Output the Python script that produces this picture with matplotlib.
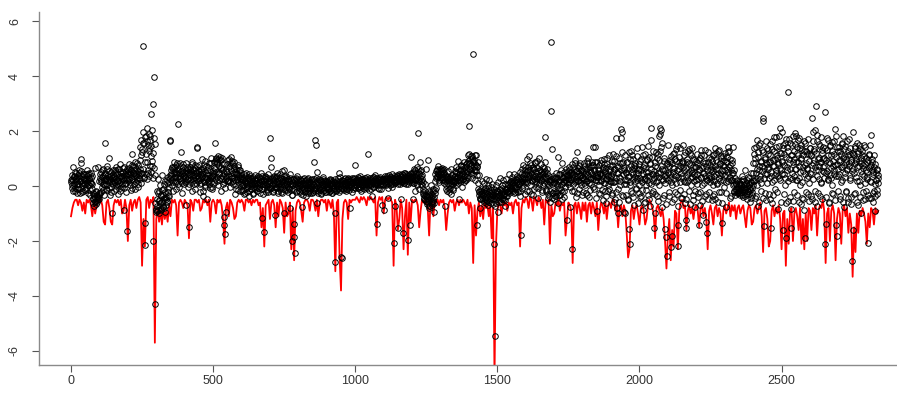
import numpy as np
import matplotlib.pyplot as plt

plt.rcParams['font.family'] = ['Liberation Sans', 'DejaVu Sans']

# red line (lower bound), one value every 5 observations, in tenths
var_step = 5
var_tenths = [
    -11, -8, -6, -5, -5, -7, -5, -6, -9, -6, -10, -5, -6, -5, -7, -11, -6, -10, -7, -5,
    -6, -5, -7, -13, -14, -6, -5, -8, -13, -14, -7, -5, -6, -5, -7, -5, -10, -9, -5, -8,
    -20, -7, -5, -9, -6, -5, -8, -5, -4, -6, -29, -12, -22, -5, -4, -8, -5, -6, -4, -57,
    -12, -8, -13, -9, -14, -8, -12, -9, -13, -7, -11, -5, -6, -5, -7, -18, -6, -5, -6, -8,
    -5, -6, -7, -19, -5, -6, -9, -5, -5, -6, -5, -9, -8, -5, -6, -5, -7, -5, -13, -6,
    -5, -6, -10, -5, -6, -5, -7, -12, -21, -8, -6, -11, -5, -6, -8, -12, -11, -6, -5, -6,
    -5, -6, -9, -5, -5, -6, -5, -7, -5, -6, -5, -5, -7, -6, -15, -8, -22, -7, -6, -5,
    -12, -6, -5, -7, -15, -6, -11, -5, -6, -8, -17, -6, -11, -10, -6, -23, -8, -27, -9, -6,
    -5, -6, -9, -13, -6, -5, -5, -6, -9, -5, -5, -6, -9, -5, -11, -6, -5, -5, -6, -5,
    -9, -5, -6, -8, -5, -10, -31, -6, -5, -26, -38, -12, -6, -5, -6, -12, -5, -6, -5, -5,
    -5, -4, -5, -6, -4, -5, -4, -5, -7, -4, -5, -4, -5, -6, -4, -18, -6, -4, -5, -4,
    -10, -5, -4, -5, -4, -5, -6, -29, -5, -7, -16, -12, -5, -8, -23, -11, -5, -25, -6, -13,
    -5, -6, -5, -5, -7, -15, -9, -5, -6, -5, -6, -8, -18, -5, -6, -11, -5, -6, -5, -7,
    -5, -6, -5, -8, -16, -10, -6, -5, -6, -5, -9, -6, -5, -7, -5, -6, -5, -6, -7, -5,
    -10, -6, -8, -28, -7, -18, -9, -6, -11, -7, -12, -6, -8, -7, -11, -7, -19, -8, -70, -22,
    -9, -6, -7, -10, -6, -7, -6, -9, -6, -7, -6, -10, -6, -5, -7, -6, -22, -8, -5, -6,
    -4, -5, -8, -4, -5, -9, -4, -5, -7, -4, -5, -8, -5, -14, -5, -6, -5, -21, -7, -11,
    -10, -6, -7, -5, -9, -6, -7, -6, -18, -12, -6, -7, -9, -28, -7, -6, -10, -6, -8, -12,
    -6, -9, -6, -13, -7, -6, -10, -6, -8, -11, -6, -16, -9, -6, -7, -10, -6, -12, -7, -6,
    -8, -5, -5, -9, -7, -15, -8, -7, -11, -7, -9, -17, -26, -23, -9, -7, -12, -8, -7, -10,
    -14, -8, -7, -9, -14, -12, -7, -5, -6, -8, -10, -19, -8, -7, -9, -11, -8, -12, -20, -30,
    -18, -12, -27, -16, -22, -9, -10, -23, -9, -6, -5, -8, -7, -16, -9, -7, -10, -8, -12, -8,
    -7, -9, -15, -8, -7, -11, -8, -12, -23, -9, -7, -10, -14, -8, -7, -11, -8, -10, -18, -9,
    -7, -10, -8, -6, -11, -7, -9, -7, -12, -8, -7, -10, -8, -7, -11, -15, -9, -7, -8, -14,
    -13, -8, -7, -10, -8, -6, -11, -24, -9, -8, -12, -22, -20, -9, -7, -11, -8, -10, -7, -12,
    -23, -10, -9, -29, -12, -21, -9, -8, -20, -10, -8, -11, -16, -8, -21, -12, -23, -10, -20, -8,
    -9, -16, -8, -10, -7, -18, -9, -7, -8, -5, -9, -28, -10, -8, -20, -9, -7, -10, -27, -12,
    -8, -10, -21, -9, -7, -11, -8, -17, -10, -14, -33, -15, -24, -10, -17, -9, -11, -8, -10, -13,
    -21, -10, -15, -8, -9, -14, -8, -10, -9,
]

# residual points at even observations (0, 2, 4, ...), in hundredths
res_even = [
    14, 27, -8, 22, 71, 3, 38, -17, 25, 46, 9, -12, 33, -4, 58, -26, 17, 83, 97, 12, -21, 44, 6, 29, -13,
    18, -6, 42, 13, 57, -24, 31, 2, 16, -34, 48, 11, -9, -43, -62, -28, -71, -53, 64, -18, -39, -58, 68, -47, -32,
    -46, -27, 23, 51, -3, 34, -16, 62, 8, 41, 158, -11, 26, 73, 4, 19, 54, 101, -31, 24, 37, -2, -97, 59, 21,
    32, -19, 47, 14, 68, 5, 43, -28, 17, 61, 12, 79, -8, 36, 22, -3, 52, 28, -88, 71, 7, -22, 39, 63, -162,
    53, 18, 81, 4, 42, 57, -16, 116, 27, 72, 9, 48, 88, -12, 37, 63, 21, 77, -3, 52, 31, 93, 141, 11, 168,
    124, 198, 509, 157, 34, -136, -215, 183, 87, 212, 148, 46, 191, 127, 169, 262, 108, 203, 72, 297, -199, 396, 152, -429, -93,
    -83, -18, -91, 27, -52, -97, 3, -63, -88, -31, 41, -72, -9, -79, -42, 18, -93, -47, 12, -58, -23, 33, -38, -4, 167,
    163, 43, 2, 71, 28, -17, 62, 87, 13, 49, -11, 82, 34, 57, 227, -4, 38, 74, 124, 19, 53, -26, 79, 41, 8,
    48, 14, -69, 83, 27, 61, -3, 43, -148, 68, 22, 54, -18, 87, 31, 63, 8, 39, 78, -12, 52, 143, 138, 18, 59,
    34, 76, -22, 53, 11, 98, 42, -37, 64, 17, 91, 4, 28, 72, -48, 39, 13, 84, 21, -8, 57, 33, 103, -2, 46,
    41, 87, 12, 63, 158, 97, 34, 82, 3, 108, 47, 23, 94, 68, -17, 38, 102, 9, 61, -112, -142, -176, -93, 28, 79,
    52, 93, 17, 98, -4, 73, 36, 107, 29, 84, 8, 62, 88, 21, -28, 47, 3, 42, 69, -13, 32, 58, 24, -19, 37,
    13, -18, 27, 2, 43, -29, 16, -7, 48, 9, -23, 32, -3, 21, -38, 37, 12, -11, 28, 4, 19, -26, 7, 41, -9,
    23, -2, 31, -17, 38, 14, -8, 27, 6, 46, 18, -117, 9, -28, -167, 22, 36, 3, 33, -12, 11, 42, -21, 17, -4,
    176, 102, 71, 3, 28, -19, 24, 37, -106, 12, -8, 33, -2, 49, 17, -27, 8, 42, -4, -22, 31, 13, 56, -9, 58,
    -98, 21, 3, 38, 12, -16, 27, -4, 18, -11, -79, 43, 7, -31, -201, 24, 2, -186, -138, -242, 29, 9, 36, -18, 4,
    12, -17, 26, 3, -28, 19, -76, -3, 8, -12, 31, -21, 4, 23, -36, 11, -7, 28, -2, -19, 16, -27, 9, 1, 24,
    3, -22, 18, 86, -9, 167, 149, 52, -63, 14, -18, 27, -4, -13, 21, -26, 8, -1, 32, -17, 12, -8, 19, 2, -23,
    -3, 17, -11, 8, -22, 26, 2, -14, 21, 11, -27, 4, 16, -8, -278, -97, 12, -19, -1, 29, -12, 48, 7, 33, -16,
    -259, -262, 3, 18, -9, 12, 27, -2, -17, 8, 22, -12, 4, 31, 13, -81, 19, 1, 9, -21, 28, 14, -3, 24, -7,
    76, 14, 21, 3, 32, -8, 12, 19, -2, 38, -17, 9, 27, 5, 18, -11, 13, 31, 2, 23, -6, 11, 116, 17, 4,
    8, 29, 4, 22, -36, 13, 33, -2, 18, 12, 41, 6, 23, -138, 14, 27, -9, 21, 3, 34, 11, 19, -69, 7, 24,
    -87, 22, 14, 31, 6, 19, 38, -42, 12, 27, 23, 4, 33, 16, 42, 24, 7, 29, -208, 21, -72, 13, 34, 18, 37,
    28, -153, 23, 39, 14, 32, -47, 18, 42, -171, 27, 12, 48, 21, 6, 34, 41, 24, -196, 31, 16, 43, -142, 107, 22,
    33, 52, -46, 12, 61, 24, -18, 38, 69, 4, 192, 27, 47, -9, 86, 19, 58, 2, 41, -28, -23, -42, 9, -51, -33,
    63, -38, -59, 94, -81, -17, -48, -72, 3, -29, -62, -12, -53, -41, -93, 18, 42, -8, 57, 33, 48, 72, 14, 39, 61,
    52, 28, 67, 21, 58, 43, 11, 49, -73, 32, 4, 38, -17, 24, 53, -12, 29, 2, 61, -28, 18, 41, -7, 13, 34,
    18, 53, 4, 68, 32, 91, 12, -46, 43, 57, 23, 78, -3, 49, 27, 72, 14, 87, 38, 63, 21, 82, 54, 29, 112,
    218, 117, 83, 108, 47, 103, 28, 92, 482, 58, 113, 21, 77, 53, -142, 68, 12, -18, 39, -43, -79, -12, -48, 17, -32,
    -23, -58, 12, -41, -8, 27, -53, -29, 3, -68, -17, 22, -38, -61, -4, -32, 9, -47, -21, -212, -545, -37, 4, -63, -18,
    -28, 13, -93, -52, -12, 31, -43, -57, 2, -19, 23, -48, -33, 8, -71, -9, 27, -38, -22, 4, 42, -27, 11, -13, 19,
    3, 32, -18, 12, 43, -27, -3, 21, -11, 38, 14, -22, 29, 6, 52, -37, -179, 18, 63, 48, 2, 77, 31, -28, 71,
    42, 13, 98, -17, 58, 32, 108, 3, 82, 47, -28, 23, 68, 37, -12, 61, 18, 88, -3, 92, 27, -42, 53, 101, 9,
    58, 22, 79, -13, 43, 68, 4, 52, 87, 179, 33, -18, 62, 11, -42, 37, 2, -58, 23, 273, 525, 135, -27, 31, -48,
    12, -38, 29, -22, 47, 3, -63, 107, 18, -31, 42, -8, 58, 82, -49, 14, 33, -17, 52, -2, 23, 61, -124, 39, 8,
    31, 68, -3, -76, 49, 22, 81, -230, 42, -18, 57, 13, 93, 27, -41, 53, 122, 17, 72, -11, 38, 83, 4, 59, 28,
    48, -21, 83, 27, 4, 62, 18, 91, -32, 41, 102, 11, 68, -13, 52, 29, 78, 88, 143, -2, 57, 141, 22, 37, -43,
    -91, 88, 32, 57, 3, 49, -28, 82, 17, 43, -52, 71, 12, 98, -18, 53, 27, -61, 79, 2, 38, 112, -9, 63, 19,
    41, -32, 92, 13, 118, -57, 63, 18, -22, 176, 72, -81, -99, 48, 103, 2, 28, 207, 173, 197, 82, -38, -93, 58, 114,
    -98, 52, 8, 87, -48, 33, 122, -157, -212, 4, 129, 61, -27, 43, 98, 77, -68, 18, 73, -12, 108, 29, -62, 47, 3,
    62, -41, 97, 23, 142, -13, -89, 68, 27, 118, -58, 52, 4, 93, 38, -32, 107, 12, 81, -72, 167, 210, 42, 128, -18,
    28, -152, -99, 73, 13, 102, -38, 48, 118, 3, 182, 210, 191, 204, 155, -75, 58, 22, 91, -33, -155, 41, -184, -255, 79,
    52, 149, -23, 88, 31, -223, 108, 4, -181, 67, 121, -48, 39, 97, 12, 133, -28, -142, -217, 62, 87, -13, 137, 29, 82,
    -42, 71, 149, 18, 112, -63, -124, -152, 88, 13, 128, 47, -18, 83, 121, 3, 58, 137, 32, -51, 98, 43, 68, -77, 22,
    92, 8, 118, -27, 63, -142, -69, 103, 28, 131, 2, 72, -106, 48, 113, -38, 82, -130, -170, 21, 88, 125, 37, -22, 58,
    33, 98, -52, 68, 4, 112, 38, -28, 137, 61, 121, 12, 87, -58, 49, 132, 18, 79, -23, 103, -133, 42, 108, -3, 72,
    58, 121, 14, -77, 89, 123, 141, 27, 68, -42, 97, 22, 82, 48, 143, 3, 57, -18, 29, -12, 8, -27, 17, -21, -3,
    -18, 12, -31, 3, -13, 38, -22, 17, -41, -2, 57, -9, -28, 8, -48, 21, -17, 4, 29, -58, -7, 13, 47, -32, 2,
    82, 18, 138, -43, 102, 47, 168, 3, 122, -71, 58, 149, 27, 88, -18, 131, 72, 246, 238, -146, 107, 42, 163, -52, 79,
    12, 118, 63, -28, 152, 87, -151, 38, 133, -62, 73, 179, 22, 98, -9, 142, 48, 112, -82, 79, 183, 31, 212, 119, 57,
    198, 87, 148, -161, 42, 118, 3, 172, -188, 68, 142, -53, 343, 97, 28, 158, -82, -154, 113, 47, 181, -22, 128, 192, 61,
    88, 183, 22, 121, 168, -58, 73, 138, 4, 102, 148, -42, 112, 53, 163, -87, 78, -188, 128, 31, 62, 172, -28, 117, 12,
    138, 42, 112, 248, -49, 197, 83, 128, -18, 203, 291, 58, 162, -71, 98, 27, 152, 88, -38, 178, 13, 121, 68, 142, 52,
    103, 271, -212, 48, -138, 132, 168, 22, 87, -57, 148, 39, 112, 3, 161, 72, -28, 118, 58, 209, 183, -142, -183, 79, 128,
    38, 142, -48, 92, 117, 13, 158, 68, 182, -78, 108, 32, 147, -17, 98, 61, 128, -58, 83, 172, 22, 118, -41, 88, -274,
    198, -161, 112, 48, 138, -27, 92, 158, 18, 121, -68, 73, 148, 3, 102, -97, 128, 42, 78, -52, 108, 12, 141, 58, -19,
    87, 32, -209, 118, -42, 73, 148, 185, 13, 98, -58, 52, 112, -18, -92, 81, 22, 58, -28, 41, 12,
]

# residual points at odd observations (1, 3, 5, ...), in hundredths
res_odd = [
    22, 5, 41, -18, 33, 12, 52, -7, 28, 17, -24, 39, 8, 47, -11, 31, 19, 56, 2, 36, 14, -19, 27, 45, 9,
    26, -13, 37, 21, 44, 3, 24, 48, -16, 29, 11, 35, 7, -27, -48, -36, -59, -44, -22, -67, -31, -52, -41, 18, -25,
    28, 43, -23, 16, 57, 9, 36, -31, 22, 48, 4, 31, 63, -14, 25, 41, -6, 34, 18, 52, -22, 29, 11, 44, 6,
    38, 14, 57, 26, -12, 44, 19, 62, 3, 33, 51, -17, 28, 47, 9, 36, 64, 21, -8, 42, 31, 55, 12, 27, 48,
    42, 27, 66, 13, 51, 34, 78, -6, 47, 22, 59, 38, 71, 16, 45, 29, 83, 54, 7, 39, 62, 24, 48, 112, 135,
    47, 156, 62, 31, 178, 89, 43, 117, 24, 164, 58, 139, 36, 182, 74, 51, 146, 92, 28, 121, 66, 173, 41, -62, -88,
    -47, -71, -26, -89, -54, -18, -63, -38, -82, -14, -57, -33, -76, 7, -45, -21, -68, -39, 22, -53, -12, -36, 14, 28, 41,
    37, 58, 22, 66, 14, 48, 71, 33, 53, 19, 76, 42, 8, 61, 27, 47, 83, 31, 56, 11, 44, 68, 24, 52, 36,
    32, 57, 18, 46, 71, 24, 52, 9, 39, 63, 27, 48, 81, 14, 41, 58, 22, 67, 33, 49, 12, 73, 37, 28, 54,
    21, 43, 6, 62, 28, 37, -18, 51, 13, 78, 32, -4, 47, 24, 59, 17, 68, 8, 41, 29, 83, 15, 36, -11, 53,
    38, 67, 92, 24, 103, 51, 88, 17, 97, 43, 72, 106, 31, 64, 95, 26, 57, 81, 13, 48, -7, 22, 38, 56, 19,
    43, 22, 68, 37, 84, 13, 57, 29, 91, 46, 18, 73, 34, 52, -9, 61, 27, 44, 78, 16, 39, 58, 8, 31, 47,
    8, 24, -13, 31, 2, 18, -24, 37, 11, -6, 27, 4, 42, -17, 15, 29, -9, 21, 6, -28, 34, 12, -3, 23, 9,
    12, -19, 24, 7, -8, 33, 16, -27, 19, 3, 38, -12, 21, 9, -4, 28, 13, -21, 26, 5, -14, 31, 8, 17, -7,
    14, -8, 27, 3, -22, 18, 33, -12, 9, 26, -3, 15, 38, -18, 7, 22, 11, -9, 29, 2, 17, -26, 24, 8, 36,
    13, -16, 28, -4, 19, 7, -23, 24, -7, 31, 9, -14, 22, 3, -31, 14, 26, -11, 6, 18, -21, 27, -2, 12, 21,
    -8, 16, -23, 7, 22, -14, 3, 27, -31, 11, -6, 19, -18, 4, 24, -11, 8, -26, 14, 2, -16, 21, -7, 12, -24,
    6, -13, 24, -19, 11, 28, -7, 3, 17, -24, 9, -11, 22, -2, -29, 13, -8, 26, 4, -14, 19, -21, 7, 14, -6,
    9, -12, 16, -6, 22, -18, 7, 13, -24, 4, 18, -9, 11, -17, 24, 3, -14, 8, 19, -7, 14, -22, 6, 17, -3,
    13, -8, 22, 6, -16, 17, 4, 29, -11, 14, 7, 24, -4, 18, -13, 9, 27, -2, 15, 21, -9, 12, 31, 3, 16,
    18, 2, 26, 13, -6, 22, 8, 31, -12, 17, 27, 4, 14, -8, 24, 19, 6, 28, -3, 16, 34, 9, 21, -14, 13,
    22, 7, 16, -12, 28, 11, 19, 33, -4, 24, 6, 17, 29, 2, 21, -8, 31, 14, 9, 26, -11, 18, 23, 5, 27,
    24, 13, 36, 4, 27, 18, 31, -6, 22, 39, 14, 26, 9, 33, 21, -3, 28, 37, 16, 24, 11, 32, 19, 41, 8,
    31, 18, 42, 24, 7, 36, 27, 14, 39, 22, 46, 11, 33, 28, 44, 17, 36, 9, 29, 41, 23, 34, 48, 16, 38,
    27, 46, 12, 38, 57, 21, 33, 48, 6, 29, 62, 17, 42, 31, 54, 9, 36, 24, 13, -12, -31, -47, -18, -38, -56,
    -42, -67, -28, -51, -36, -74, -22, -57, -45, -31, -68, -19, -48, -63, -27, -14, 28, 53, 37, 62, 44, 21, 58, 33, 49,
    42, 61, 33, 56, 24, 47, 63, 31, 18, 37, -12, 22, 7, 28, -21, 14, 33, -6, 19, 41, 8, 26, -14, 17, 32,
    36, 14, 52, 28, 47, 63, 21, 41, 58, 33, 72, 17, 44, 61, 26, 53, 38, 69, 22, 47, 81, 34, 56, 92, 63,
    84, 62, 97, 53, 76, 108, 44, 87, 68, 93, 57, 79, 112, 41, 73, 86, -12, -34, -21, -46, -28, -17, -39, -24, -52,
    -31, -13, -46, -27, -62, -19, -38, -51, -8, -33, -57, -24, -42, -16, -49, -29, -66, -37, -12, -44, -71, -23, -48, -35, -18,
    -41, -22, -33, -58, -14, -37, -26, -49, -8, -31, -44, -17, -28, -52, -11, -36, -21, -6, -18, 7, -13, 14, -4, 19, -9,
    12, -16, 22, -7, 18, 3, -21, 27, -4, 14, 31, -12, 8, 24, -19, 11, 16, 28, -8, 36, 22, 44, 14, 57, 26,
    31, 53, 12, 68, 24, 41, -18, 57, 33, 76, 19, 44, -31, 62, 27, 38, 83, 14, 52, 29, 66, -8, 41, 24, 58,
    32, 17, 51, -22, 43, 28, 64, 11, 36, 56, -13, 24, 47, 8, -28, 19, -37, 14, -18, 26, -42, 9, 37, -24, 16,
    -17, 24, -38, 12, 31, -26, 17, -9, 42, -32, 21, -14, 33, 6, -21, 28, 13, -41, 37, 22, 48, 14, 39, 27, 56,
    41, 14, 63, 27, 52, -18, 36, 71, 9, 44, 28, 82, 17, 56, -26, 38, 64, 21, 49, 77, 13, 41, 58, -31, 33,
    26, 54, 11, 72, 38, -24, 47, 61, 19, 83, 32, -41, 53, 24, 68, 8, 44, 76, 29, -12, 57, 36, 89, 21, 48,
    33, 62, 18, 78, -27, 45, 21, 93, 36, -14, 57, 28, 81, 12, 49, -38, 66, 24, 101, 41, -19, 53, 31, 72, 16,
    38, 77, -24, 51, 92, 14, -47, 63, 28, 109, 46, -12, 71, 32, -58, 84, 19, 57, 124, -31, 43, 88, 6, 67, 23,
    47, -33, 86, 21, 61, -52, 38, 97, 14, 73, -18, 52, 112, 27, -41, 66, 33, 84, -7, 49, 138, 22, 58, -26, 81,
    28, 92, -38, 57, 14, 113, 42, -62, 78, 31, 64, -14, 99, 23, 147, 51, -46, 36, 82, 9, 61, -27, 104, 44, 18,
    56, 87, -29, 41, 122, 18, 68, -53, 94, 33, 128, 47, 142, 74, 26, 63, -42, 102, 37, 11, 58, -67, 29, 84, 46,
    21, 73, -37, 96, 44, 13, 82, -58, 52, 118, 27, 67, -21, 91, 38, 144, 59, -74, 33, 106, 16, 72, -43, 48, 92,
    36, 88, -28, 57, 123, 14, 66, -47, 41, 97, 22, 136, 51, -64, 78, 29, 112, 46, -33, 68, 17, 94, 38, -19, 71,
    43, 82, -41, 27, 96, 58, -22, 113, 34, 67, -56, 49, 88, 12, 131, 37, -28, 74, 23, 58, -47, 102, 31, 76, 14,
    62, 27, 91, -36, 53, 118, 19, 72, -49, 44, 96, 8, 63, 127, 31, -23, 84, 41, 109, -62, 57, 22, 78, 36, 94,
    41, 88, -27, 63, 104, 17, 52, 127, 33, 78, -36, 59, 93, 21, 46, 9, -22, 14, -31, 6, -18, 23, -12, -27, 8,
    -14, 7, -26, -6, 18, -33, -11, 24, -21, 3, -38, -16, 11, -24, -4, 32, -19, -29, 8, -13, -42, 14, -22, -8, 22,
    47, 118, 23, 84, -36, 142, 61, 28, 107, -58, 73, 36, 156, 12, 91, 53, -44, 124, 67, 31, 98, -27, 82, 139, 44,
    68, 131, 29, 87, -47, 114, 52, 163, 16, 96, -34, 74, 127, 41, 58, 178, -21, 103, 36, 86, 144, 22, 67, -58, 121,
    92, 43, 137, -29, 76, 158, 31, 104, -62, 57, 126, 18, 82, 171, -41, 63, 114, 27, 148, 88, -53, 36, 97, 153, 22,
    61, 143, -34, 87, 112, 28, 174, 52, -67, 98, 133, 16, 71, -48, 126, 43, 157, 84, -23, 64, 118, 36, 92, -56, 139,
    48, 112, -38, 77, 162, 24, 93, 136, -57, 68, 121, 38, 184, 57, -24, 103, 72, 146, 11, 88, -46, 132, 54, 97, 28,
    72, 138, -41, 96, 53, 176, 24, 112, -63, 83, 147, 31, 67, -27, 128, 92, 44, 163, -52, 78, 107, 36, 142, -18, 61,
    93, 42, 127, -36, 68, 154, 21, 102, -58, 77, 136, 48, 88, -23, 163, 57, 114, -44, 72, 138, 31, 96, -67, 121, 53,
    62, 118, -28, 84, 147, 33, 98, -57, 71, 126, 18, 92, -41, 136, 56, 83, 112, -22, 64, 148, 37, 79, -48, 103, 27,
    52, 94, -31, 67, 112, 18, 76, -42, 58, 86, -24, 43, 71, 9, -37, 48, 23, 62, -16, 31,
]

x_ticks = [0, 500, 1000, 1500, 2000, 2500]
y_ticks = [-6, -4, -2, 0, 2, 4, 6]

var = np.array(var_tenths) / 10.0
x_var = np.arange(len(var)) * var_step

res = np.concatenate([np.array(res_even), np.array(res_odd)]) / 100.0
x_res = np.concatenate([np.arange(len(res_even)) * 2, np.arange(len(res_odd)) * 2 + 1])

# figure is a crop of a wider R plot, so the axes run past the right edge
fig = plt.figure(figsize=(8.97, 3.94), dpi=100)
ax = fig.add_axes([39 / 897, 29 / 394, 871.5 / 897, 353 / 394])

ax.plot(x_var, var, color='red', lw=1.3, zorder=2)
ax.plot(x_res, res, 'o', mfc='none', mec='black', ms=4.0, mew=0.7, zorder=3)

ax.set_xlim(-112.6, 2953.6)
ax.set_ylim(-6.51, 6.33)

# R style box: left and bottom only, grey
for side in ['top', 'right']:
    ax.spines[side].set_visible(False)
for side in ['left', 'bottom']:
    ax.spines[side].set_color('#8a8a8a')
    ax.spines[side].set_linewidth(1.0)

ax.set_xticks(x_ticks)
ax.set_yticks(y_ticks)
ax.set_yticklabels([str(v) for v in y_ticks], rotation=90, va='center')
ax.tick_params(axis='both', length=5, width=0.8, color='#555555',
               labelsize=9, labelcolor='#333333')
ax.tick_params(axis='x', pad=2.5)
ax.tick_params(axis='y', pad=8)

fig.savefig('out.png', dpi=100)
